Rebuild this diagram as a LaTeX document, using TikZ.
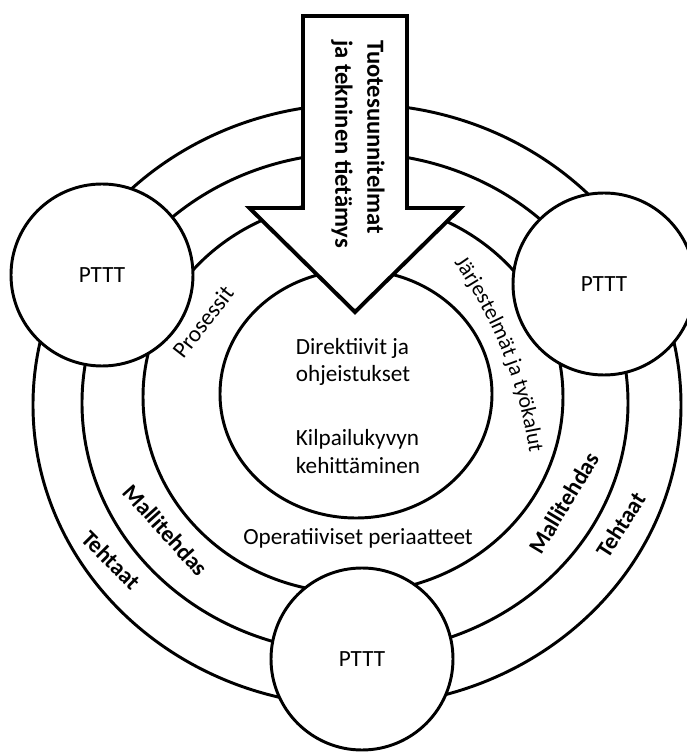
\documentclass[tikz,border=0pt]{standalone}
\usepackage{fontspec}
\setmainfont{Carlito}
\usetikzlibrary{decorations.text}

\begin{document}
\begin{tikzpicture}[
		ring/.style={line width=2.1pt},
		pttt/.style={circle, draw, line width=2.1pt, fill=white, minimum size=4.55cm, inner sep=0pt, font=\fontsize{16.5}{20}\selectfont},
		lbl/.style={font=\fontsize{16.5}{20}\selectfont, inner sep=1pt},
		blbl/.style={font=\fontsize{16.5}{20}\selectfont\bfseries, inner sep=1pt}
	]
		\useasboundingbox (-8.875,-8.8) rectangle (8.275,10);
		
		% Draw the rings: Tehtaat, Mallitehdas, Prosessit and the core
		\draw[ring] (0.05,-0.125) ellipse (8.1 and 7.525);
		\draw[ring] (0,-0.075) ellipse (6.825 and 6.25);
		\draw[ring] (-0.05,0.075) ellipse (5.25 and 4.9);
		\draw[ring] (0.025,0.15) ellipse (3.4 and 3.1);
		
		% PTTT circles sitting on the rings
		\node[pttt] (ptttL) at (-6.325,3.125) {PTTT};
		\node[pttt] (ptttR) at (6.225,2.9) {PTTT};
		\node[pttt] (ptttB) at (0.175,-6.475) {PTTT};
		
		% Big arrow coming in from the top
		\draw[line width=2.8pt, fill=white] (-1.3,9.6) -- (1.3,9.6) -- (1.3,4.8) -- (2.64,4.8) -- (0,2.2) -- (-2.64,4.8) -- (-1.3,4.8) -- cycle;
		\node[blbl, rotate=-90, anchor=north west, align=left, inner sep=0pt, font=\fontsize{17.5}{22.8}\selectfont\bfseries] (design) at (0.75,9.0) {Tuotesuunnitelmat\\ja tekninen tietämys};
		
		% Texts in the core
		\node[lbl, align=left, anchor=west, font=\fontsize{16.5}{19.5}\selectfont] (directives) at (-1.52,0.95) {Direktiivit ja\\ohjeistukset};
		\node[lbl, align=left, anchor=west, font=\fontsize{16.5}{19.5}\selectfont] (competition) at (-1.52,-1.29) {Kilpailukyvyn\\kehittäminen};
		
		% Labels of the rings
		\node[lbl] (operative) at (0.075,-3.45) {Operatiiviset periaatteet};
		\node[lbl, rotate=52] (processes) at (-3.8,1.95) {Prosessit};
		\path[decorate, decoration={text along path, text align=left, text={|\fontsize{15.5}{19}\selectfont|Järjestelmät ja työkalut}}]
			(-6.575,-2.9125) ++(35:11.05) arc[start angle=35, end angle=-5, radius=11.05];
		\node[blbl, rotate=-48] (modelL) at (-4.725,-3.25) {Mallitehdas};
		\node[blbl, rotate=59] (modelR) at (5.225,-2.575) {Mallitehdas};
		\node[blbl, rotate=-45] (plantsL) at (-6.1,-4.0) {Tehtaat};
		\node[blbl, rotate=57] (plantsR) at (6.65,-3.125) {Tehtaat};
		
	\end{tikzpicture}
\end{document}
